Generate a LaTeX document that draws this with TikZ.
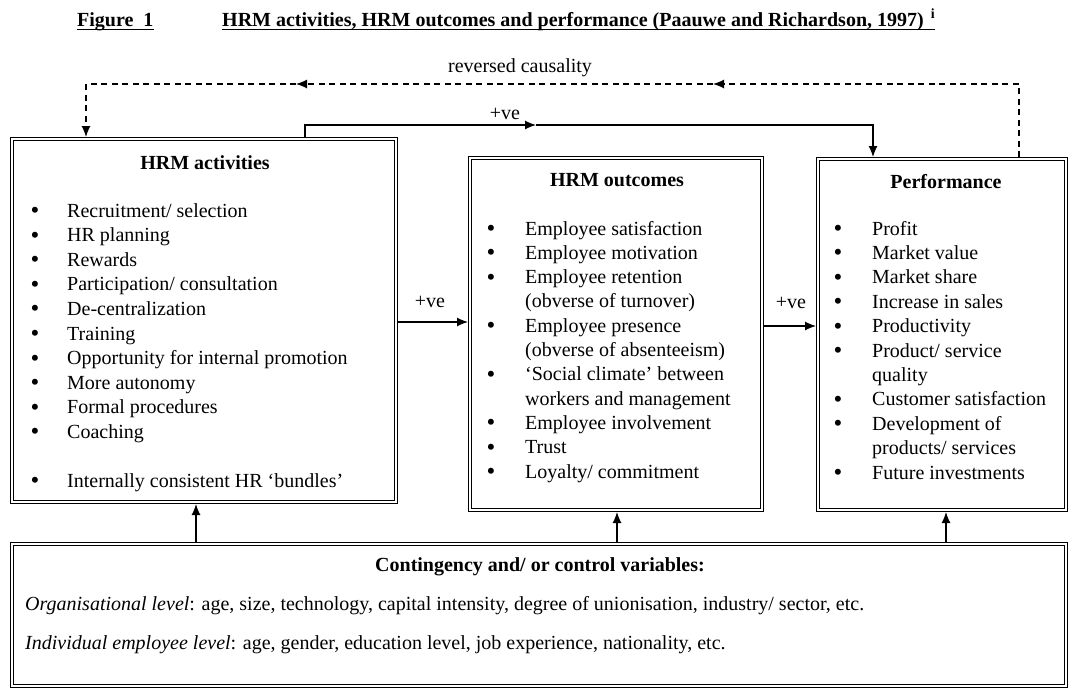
\documentclass[tikz,border=0pt]{standalone}
\usepackage{fontspec}
\setmainfont{Liberation Serif}
\usetikzlibrary{arrows.meta,calc}
\begin{document}
\begin{tikzpicture}[x=1pt,y=-1pt, font=\fontsize{20}{24}\selectfont,
  box/.style={draw, rectangle, line width=1.1pt, double, double distance=1.8pt, inner sep=0pt, outer sep=2pt},
  arr/.style={line width=1.2pt, -{Latex[length=11pt,width=9pt]}},
  darr/.style={arr, dash pattern=on 6pt off 4.5pt},
  txt/.style={anchor=base west, inner sep=0pt},
  hd/.style={anchor=base, inner sep=0pt, font=\fontsize{20}{24}\selectfont\bfseries},
  bul/.style={anchor=base, inner sep=0pt, font=\fontsize{25}{24}\selectfont, yshift=-1.5pt},
  lbl/.style={inner sep=1pt}]
\useasboundingbox (0,0) rectangle (1071,689);
\fill[white] (0,0) rectangle (1071,689);

% title
\node[txt, font=\fontsize{20}{24}\selectfont\bfseries] (fig) at (77,26) {Figure\ \ 1};
\node[txt, font=\fontsize{20}{24}\selectfont\bfseries] (ttl) at (222,26) {HRM activities, HRM outcomes and performance (Paauwe and Richardson, 1997)\hspace{7pt}\textsuperscript{i}};
\draw[line width=1.2pt] ([yshift=-3.5pt]fig.base west) -- ([yshift=-3.5pt]fig.base east);
\draw[line width=1.2pt] ([yshift=-3.5pt]ttl.base west) -- ([yshift=-3.5pt]ttl.base east);

% boxes
\node[box, minimum width=384pt, minimum height=363pt] (act) at (204,320.5) {};
\node[box, minimum width=292pt, minimum height=352pt] (out) at (616,334) {};
\node[box, minimum width=248pt, minimum height=351pt] (perf) at (942,334.5) {};
\node[box, minimum width=1054pt, minimum height=142pt] (ctl) at (539,615) {};

% reversed causality
\node[lbl] (rc) at (520,68) {reversed causality};
\coordinate (d1) at (1019,84);
\coordinate (d2) at (713,84);
\coordinate (d3) at (296,84);
\coordinate (d4) at (86,84);
\draw[darr] (perf.north -| d1) -- (d1) -- (d2);
\draw[darr] (d2) -- (d3);
\draw[darr] (d3) -- (d4) -- (act.north -| d4);

% top +ve
\coordinate (s1) at (305,125);
\coordinate (s2) at (536,125);
\coordinate (s3) at (873,125);
\draw[arr] (act.north -| s1) -- (s1) -- (s2);
\draw[arr] (s2) -- (s3) -- (perf.north -| s3);
\node[lbl] (pv1) at (505,114) {+ve};

% side arrows
\coordinate (ya) at (0,322);
\coordinate (yb) at (0,326);
\draw[arr] (act.east |- ya) -- (out.west |- ya);
\node[lbl] (pv2) at (430,302) {+ve};
\draw[arr] (out.east |- yb) -- (perf.west |- yb);
\node[lbl] (pv3) at (791,303) {+ve};

% bottom arrows
\coordinate (u1) at (196,0);
\coordinate (u2) at (617,0);
\coordinate (u3) at (946,0);
\draw[arr] (ctl.north -| u1) -- (act.south -| u1);
\draw[arr] (ctl.north -| u2) -- (out.south -| u2);
\draw[arr] (ctl.north -| u3) -- (perf.south -| u3);

% HRM activities
\node[hd] (hact) at (205,169) {HRM activities};
\foreach \yy/\lb [count=\i] in {217/{Recruitment/ selection}, 241.6/{HR planning}, 266.2/{Rewards}, 290.8/{Participation/ consultation}, 315.4/{De-centralization}, 340/{Training}, 364.6/{Opportunity for internal promotion}, 389.2/{More autonomy}, 413.8/{Formal procedures}, 438.4/{Coaching}, 487/{Internally consistent HR ‘bundles’}}
{
  \node[bul] (ab\i) at (35,\yy) {•};
  \node[txt] (at\i) at (67,\yy) {\lb};
}

% HRM outcomes
\node[hd] (hout) at (617,186) {HRM outcomes};
\foreach \yy/\lb [count=\i] in {235/{Employee satisfaction}, 259.3/{Employee motivation}, 283.6/{Employee retention}, 307.9/{(obverse of turnover)}, 332.2/{Employee presence}, 356.5/{(obverse of absenteeism)}, 380.8/{‘Social climate’ between}, 405.1/{workers and management}, 429.4/{Employee involvement}, 453.7/{Trust}, 478/{Loyalty/ commitment}}
{
  \node[txt] (ot\i) at (525,\yy) {\lb};
}
\foreach \yy [count=\i] in {235, 259.3, 283.6, 332.2, 380.8, 429.4, 453.7, 478}
{
  \node[bul] (ob\i) at (491,\yy) {•};
}

% Performance
\node[hd] (hperf) at (946,188) {Performance};
\foreach \yy/\lb [count=\i] in {235/{Profit}, 259.4/{Market value}, 283.8/{Market share}, 308.2/{Increase in sales}, 332.6/{Productivity}, 357/{Product/ service}, 381.4/{quality}, 405.8/{Customer satisfaction}, 430.2/{Development of}, 454.6/{products/ services}, 479/{Future investments}}
{
  \node[txt] (pt\i) at (872,\yy) {\lb};
}
\foreach \yy [count=\i] in {235, 259.4, 283.8, 308.2, 332.6, 357, 405.8, 430.2, 479}
{
  \node[bul] (pb\i) at (838,\yy) {•};
}

% Contingency
\node[hd] (hctl) at (540,571) {Contingency and/ or control variables:};
\node[txt] (c1) at (25,610) {\textit{Organisational level}: age, size, technology, capital intensity, degree of unionisation, industry/ sector, etc.};
\node[txt] (c2) at (25,649) {\textit{Individual employee level}: age, gender, education level, job experience, nationality, etc.};
\end{tikzpicture}
\end{document}
